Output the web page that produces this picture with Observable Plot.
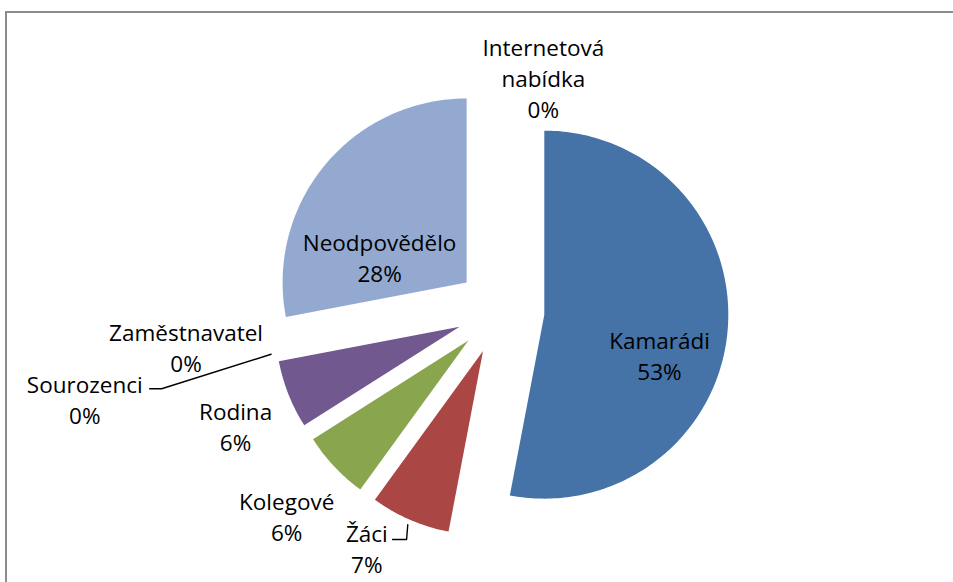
<!DOCTYPE html>
<html><head><meta charset="utf-8">
<script src="https://cdn.jsdelivr.net/npm/d3@7"></script>
<script src="https://cdn.jsdelivr.net/npm/@observablehq/plot@0.6"></script>
<style>
html,body{margin:0;padding:0;background:#fff;overflow:hidden}
#wrap{position:relative;width:953px;height:582px;overflow:hidden}
#frame{position:absolute;left:5px;top:11px;width:1000px;height:700px;border:2px solid #8c8c8c;box-sizing:border-box}
#chart{position:absolute;left:0;top:0}
</style></head><body>
<div id="wrap"><div id="frame"></div><div id="chart"></div></div>
<script>
// ---- data ----
const categories = ["Kamarádi", "Žáci", "Kolegové", "Rodina", "Sourozenci", "Zaměstnavatel", "Neodpovědělo", "Internetová nabídka"];
const shares = [53, 7, 6, 6, 0, 0, 28, 0];
const sliceColors = ["#4572A7", "#AA4643", "#89A54E", "#71588F", "#4198AF", "#DB843D", "#93A9CF", "#D19392"];

// ---- layout (pixels / polar placement of labels) ----
const W = 953, H = 582, CX = 500, CY = 310, R = 184, EXPLODE = 44;
const FONT = "Open Sans", FONT_SIZE = 22.5, LINE_PX = 31;
// label placement: angle (deg clockwise from top) and distance (in radii) from pie centre
const labelAngle  = [105.5, 209.4, 226.2, 246.5, 258.0, 263.5, 294.1, 10.4];
const labelRadius = [0.897, 1.48, 1.61, 1.57, 2.31, 1.72, 0.72, 1.29];
// leader lines: which slices, elbow polar placement, horizontal tail length (px)
const leaderFor = ["Žáci", "Sourozenci"];
const leaderElbow = {"Žáci": [202.3, 1.345, 14], "Sourozenci": [257.0, 1.89, 12]};

const rad = a => a * Math.PI / 180;
let acc = 0;
const slices = categories.map((name, i) => {
  const start = acc / 100 * 360; acc += shares[i]; const end = acc / 100 * 360;
  return {name, share: shares[i], start, end, mid: (start + end) / 2, i};
});
const ex = EXPLODE / R;
const off = s => [ex * Math.sin(rad(s.mid)), ex * Math.cos(rad(s.mid))];

const wedgePts = [];
for (const s of slices) {
  if (s.share <= 0) continue;
  const [ox, oy] = off(s);
  wedgePts.push({name: s.name, x: ox, y: oy});
  const n = Math.max(8, Math.ceil(s.end - s.start));
  for (let k = 0; k <= n; k++) {
    const a = rad(s.start + (s.end - s.start) * k / n);
    wedgePts.push({name: s.name, x: ox + Math.sin(a), y: oy + Math.cos(a)});
  }
  wedgePts.push({name: s.name, x: ox, y: oy});
}

const labels = slices.map(s => ({
  name: s.name,
  text: s.name.replace(" ", "\n") + "\n" + s.share + "%",
  x: labelRadius[s.i] * Math.sin(rad(labelAngle[s.i])),
  y: labelRadius[s.i] * Math.cos(rad(labelAngle[s.i]))
}));

const leaderPts = [];
for (const nm of leaderFor) {
  const s = slices.find(d => d.name === nm);
  const [ox, oy] = off(s);
  const [ea, er, tail] = leaderElbow[nm];
  const st = {x: ox + 1.03 * Math.sin(rad(s.mid)), y: oy + 1.03 * Math.cos(rad(s.mid))};
  const el = {x: er * Math.sin(rad(ea)), y: er * Math.cos(rad(ea))};
  leaderPts.push({name: nm, ...st}, {name: nm, ...el}, {name: nm, x: el.x - tail / R, y: el.y});
}

const chart = Plot.plot({
  width: W, height: H,
  marginTop: 0, marginRight: 0, marginBottom: 0, marginLeft: 0,
  x: {domain: [(0 - CX) / R, (W - CX) / R], axis: null},
  y: {domain: [(CY - H) / R, CY / R], axis: null},
  color: {domain: categories, range: sliceColors},
  style: {background: "transparent", overflow: "visible"},
  marks: [
    Plot.line(wedgePts, {x: "x", y: "y", z: "name", fill: "name", stroke: "none", curve: "linear"}),
    Plot.line(leaderPts, {x: "x", y: "y", z: "name", stroke: "#000", strokeWidth: 1.4, curve: "linear"}),
    Plot.text(labels, {x: "x", y: "y", text: "text", fill: "#000", fontSize: FONT_SIZE, fontFamily: FONT,
      lineHeight: LINE_PX / FONT_SIZE, lineAnchor: "middle", textAnchor: "middle"})
  ]
});
document.getElementById("chart").appendChild(chart);
</script>
</body></html>
